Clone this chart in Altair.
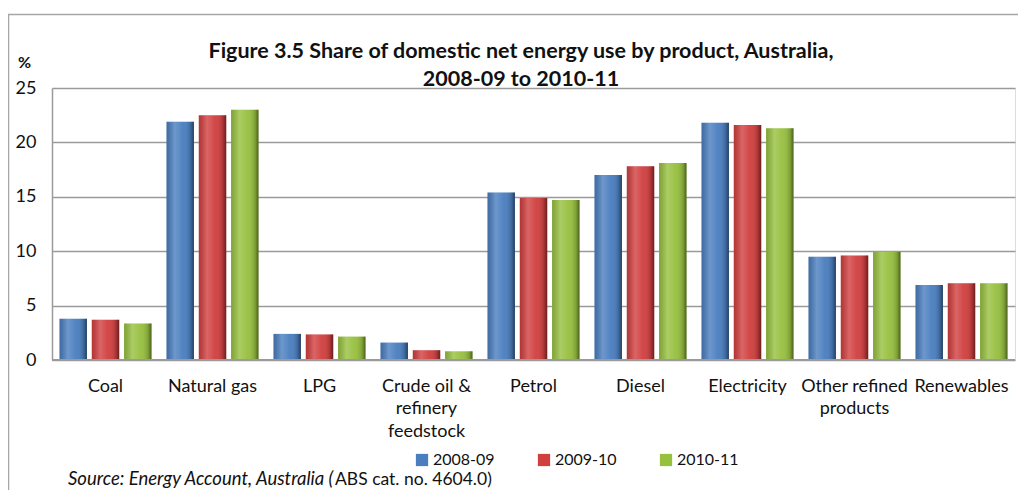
import altair as alt
import pandas as pd

categories = ["Coal", "Natural gas", "LPG", "Crude oil & refinery feedstock", "Petrol",
              "Diesel", "Electricity", "Other refined products", "Renewables"]
series = ["2008-09", "2009-10", "2010-11"]
v2008 = [3.8, 21.9, 2.4, 1.6, 15.4, 17.0, 21.8, 9.5, 6.9]
v2009 = [3.7, 22.5, 2.35, 0.9, 14.9, 17.8, 21.6, 9.6, 7.05]
v2010 = [3.35, 23.0, 2.15, 0.8, 14.7, 18.1, 21.3, 9.95, 7.05]
colors = ["#4a7ebf", "#d13f3f", "#97c03f"]

title_line1 = ["Figure 3.5 Share of domestic net energy use by product, Australia,"]
title_line2 = ["2008-09 to 2010-11"]
source_italic = ["Source: Energy Account, Australia ("]
source_plain = ["ABS cat. no. 4604.0)"]
y_ticks = [0, 5, 10, 15, 20, 25]

rows = []
for s, vals in zip(series, [v2008, v2009, v2010]):
    for c, v in zip(categories, vals):
        rows.append({"product": c, "year": s, "value": v})
df = pd.DataFrame(rows)

FONT = "Lato"
FS = 18

label_expr = ("datum.value == 'Crude oil & refinery feedstock' ? ['Crude oil &', 'refinery', 'feedstock'] : "
              "datum.value == 'Other refined products' ? ['Other refined', 'products'] : datum.label")

x_enc = alt.X("product:N", sort=categories,
              scale=alt.Scale(paddingInner=0.14, paddingOuter=0.07),
              axis=alt.Axis(title=None, labelAngle=0, labelExpr=label_expr, labelFontSize=FS,
                            labelPadding=17, labelLineHeight=22.5, ticks=False, domain=False,
                            labelColor="#111", labelFont=FONT))
y_enc = alt.Y("value:Q", scale=alt.Scale(domain=[0, 25], nice=False),
              axis=alt.Axis(values=y_ticks, title="%", titleAngle=0, titleX=-28, titleY=-18,
                            titleFontSize=16, titleFontWeight="bold", titleFont=FONT,
                            titleColor="#111",
                            labelFontSize=FS, labelPadding=16, labelColor="#111", labelFont=FONT,
                            ticks=False, domain=True, domainColor="#9a9a9a", domainWidth=1.5,
                            grid=True, gridColor="#9a9a9a", gridWidth=1.5))
xo_enc = alt.XOffset("year:N", sort=series, scale=alt.Scale(paddingInner=0.15))

bars = alt.Chart(df).mark_bar().encode(
    x=x_enc, y=y_enc, xOffset=xo_enc,
    color=alt.Color("year:N", sort=series, scale=alt.Scale(domain=series, range=colors),
                    legend=alt.Legend(title=None, orient="none", direction="horizontal",
                                      legendX=362, legendY=364, symbolType="square",
                                      symbolSize=150, symbolStrokeWidth=0,
                                      labelFontSize=16, labelFont=FONT, labelColor="#111",
                                      labelOffset=3, columnPadding=41))
)

shade = alt.Gradient(
    gradient="linear", x1=0, x2=1, y1=0, y2=0,
    stops=[alt.GradientStop(color="rgba(0,0,0,0.15)", offset=0),
           alt.GradientStop(color="rgba(255,255,255,0.2)", offset=0.3),
           alt.GradientStop(color="rgba(255,255,255,0.04)", offset=0.6),
           alt.GradientStop(color="rgba(0,0,0,0.18)", offset=0.88),
           alt.GradientStop(color="rgba(0,0,0,0.5)", offset=1)])

overlay = alt.Chart(df).mark_bar(fill=shade).encode(x=x_enc, y=y_enc, xOffset=xo_enc)

zero = alt.Chart(pd.DataFrame({"v": [0]})).mark_rule(color="#9a9a9a", strokeWidth=2).encode(y="v:Q")

frame = alt.Chart(pd.DataFrame({"a": [0]})).mark_rect(
    fill=None, stroke="#a6a6a6", strokeWidth=1.5).encode(
    x=alt.value(-43.5), x2=alt.value(1000), y=alt.value(-73.5), y2=alt.value(500))

def text_layer(vals, x, y, **kw):
    return alt.Chart(pd.DataFrame({"t": vals})).mark_text(
        font=FONT, color="#111", baseline="alphabetic", **kw).encode(
        text="t:N", x=alt.value(x), y=alt.value(y))

t1 = text_layer(title_line1, 469, -30, align="center", fontSize=21.5, fontWeight="bold")
t2 = text_layer(title_line2, 469, -2, align="center", fontSize=21.5, fontWeight="bold")
src1 = text_layer(source_italic, 16, 397, align="left", fontSize=18.5, fontStyle="italic")
src2 = text_layer(source_plain, 283, 397, align="left", fontSize=17.5)

chart = alt.layer(frame, bars, overlay, zero, t1, t2, src1, src2).properties(
    width=963, height=272,
    padding={"left": 44, "top": 80, "right": 3, "bottom": 130},
    autosize=alt.AutoSizeParams(type="none"),
).configure_view(stroke=None).configure(background="white")

chart.save("out.html", embed_options={"renderer": "svg", "actions": False})
